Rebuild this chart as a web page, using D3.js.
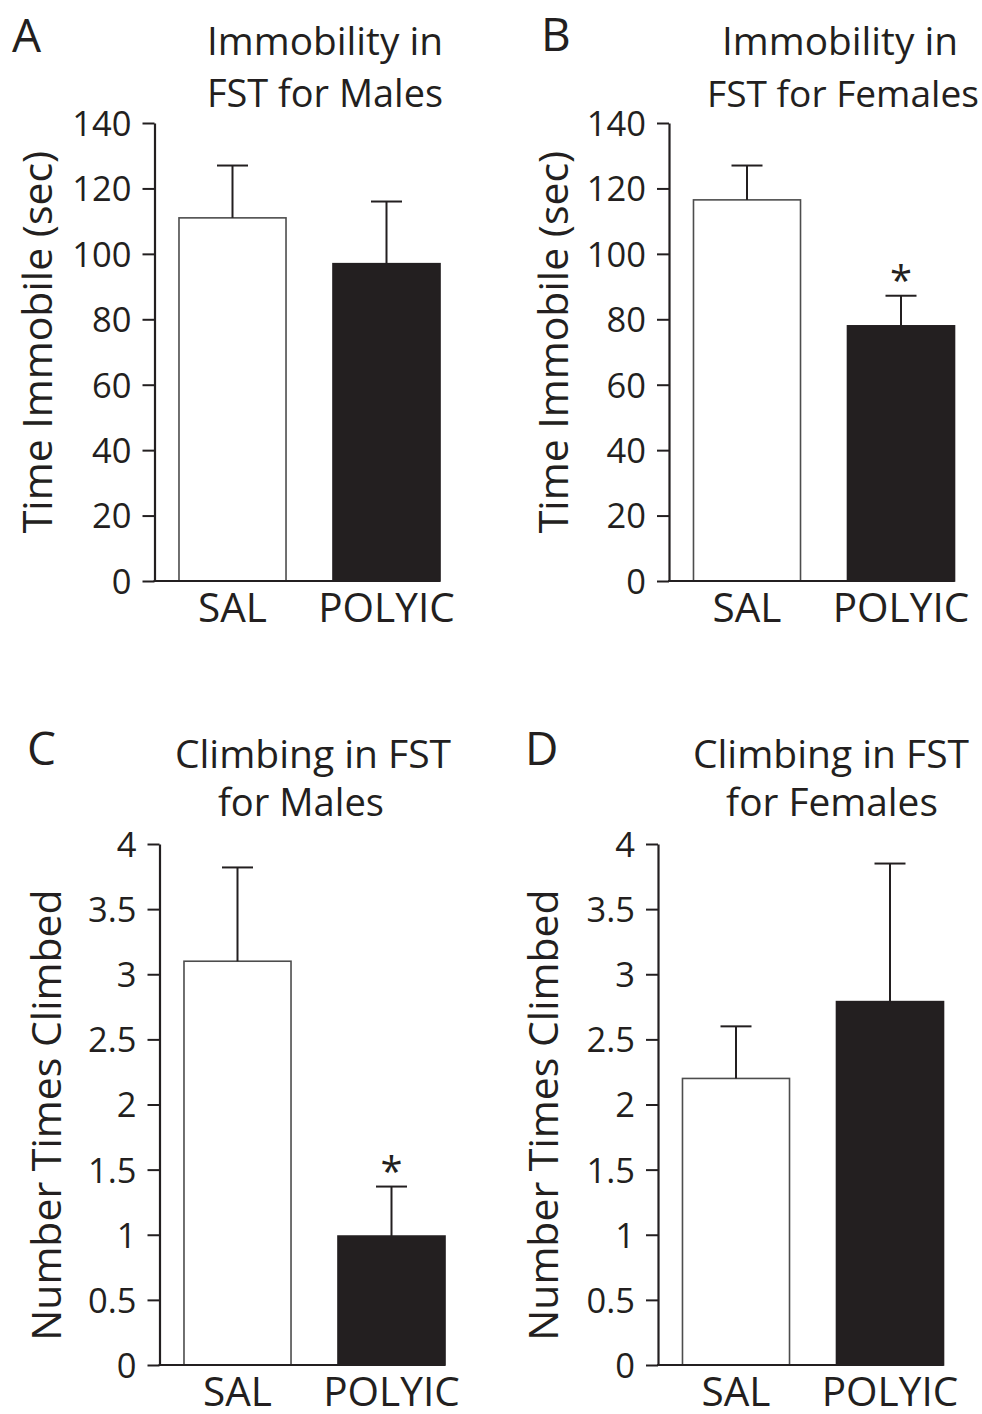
<!DOCTYPE html>
<html>
<head>
<meta charset="utf-8">
<script src="https://cdn.jsdelivr.net/npm/d3@7"></script>
<style>
  html, body { margin: 0; padding: 0; background: #fff; }
  svg { display: block; }
  text { font-family: "Open Sans", sans-serif; fill: #231f20; }
</style>
</head>
<body>
<svg id="fig" width="982" height="1414"></svg>
<script>
// Treatment groups
const groups = ["SAL", "POLYIC"];

// Forced swim test: time immobile (sec), mean and SEM
const immobilityMales = [111, 97];
const immobilityMalesSem = [16, 19];
const immobilityFemales = [116.5, 78];
const immobilityFemalesSem = [10.5, 9.2];

// Forced swim test: number of climbing events, mean and SEM
const climbingMales = [3.1, 0.99];
const climbingMalesSem = [0.72, 0.38];
const climbingFemales = [2.2, 2.79];
const climbingFemalesSem = [0.4, 1.06];

// Significance flags (p < 0.05 vs SAL)
const immobilityFemalesSig = [false, true];
const climbingMalesSig = [false, true];
const noSig = [false, false];

// Axis ticks
const immobilityTicks = [0, 20, 40, 60, 80, 100, 120, 140];
const climbingTicks = [0, 0.5, 1, 1.5, 2, 2.5, 3, 3.5, 4];

const ink = "#231f20";
const barFill = ["#ffffff", ink];
const barStroke = ["#4d4d4d", ink];

const panels = [
  { letter: "A", letterX: 12, letterY: 52,
    title: ["Immobility in", "FST for Males"], titleX: [325, 325], titleY: [55, 107], titleW: [236, 236],
    yLabel: "Time Immobile (sec)", yLabelX: 52, yLabelY: 342,
    means: immobilityMales, sem: immobilityMalesSem, sig: noSig,
    ticks: immobilityTicks, axisX: 154.5, top: 123, bottom: 581, catY: 622 },
  { letter: "B", letterX: 541, letterY: 51,
    title: ["Immobility in", "FST for Females"], titleX: [840, 843], titleY: [55, 107], titleW: [236, 272],
    yLabel: "Time Immobile (sec)", yLabelX: 568, yLabelY: 342,
    means: immobilityFemales, sem: immobilityFemalesSem, sig: immobilityFemalesSig,
    ticks: immobilityTicks, axisX: 669, top: 123, bottom: 581, catY: 622 },
  { letter: "C", letterX: 27, letterY: 765,
    title: ["Climbing in FST", "for Males"], titleX: [313, 301], titleY: [768, 816], titleW: [284, 166],
    yLabel: "Number Times Climbed", yLabelX: 61, yLabelY: 1115,
    means: climbingMales, sem: climbingMalesSem, sig: climbingMalesSig,
    ticks: climbingTicks, axisX: 159.5, top: 844, bottom: 1365, catY: 1406 },
  { letter: "D", letterX: 525, letterY: 765,
    title: ["Climbing in FST", "for Females"], titleX: [831, 832], titleY: [768, 816], titleW: [284, 212],
    yLabel: "Number Times Climbed", yLabelX: 558, yLabelY: 1115,
    means: climbingFemales, sem: climbingFemalesSem, sig: noSig,
    ticks: climbingTicks, axisX: 658, top: 844, bottom: 1365, catY: 1406 }
];

const svg = d3.select("#fig");

// Shrink a text's font size until it fits within a given width
function fitWidth(sel, maxW, size) {
  sel.style("font-size", size + "px");
  const w = sel.node().getComputedTextLength();
  if (w > maxW) sel.style("font-size", (size * maxW / w).toFixed(2) + "px");
}

panels.forEach(p => {
  const g = svg.append("g");

  const y = d3.scaleLinear()
    .domain([0, d3.max(p.ticks)])
    .range([p.bottom, p.top]);

  const x = d3.scaleBand()
    .domain(groups)
    .range([p.axisX, p.axisX + 310])
    .paddingInner(0.305)
    .paddingOuter(0.159);

  const bw = x.bandwidth();
  const xEnd = x(groups[groups.length - 1]) + bw;

  // Panel letter
  g.append("text")
    .attr("x", p.letterX).attr("y", p.letterY)
    .style("font-size", "46px")
    .text(p.letter);

  // Title, two lines
  p.title.forEach((line, i) => {
    const t = g.append("text")
      .attr("x", p.titleX[i]).attr("y", p.titleY[i])
      .attr("text-anchor", "middle")
      .text(line);
    fitWidth(t, p.titleW[i], 39);
  });

  // Bars
  g.selectAll("rect.bar")
    .data(groups)
    .join("rect")
    .attr("class", "bar")
    .attr("x", d => x(d))
    .attr("width", bw)
    .attr("y", (d, i) => y(p.means[i]))
    .attr("height", (d, i) => y(0) - y(p.means[i]))
    .attr("fill", (d, i) => barFill[i])
    .attr("stroke", (d, i) => barStroke[i])
    .attr("stroke-width", 1.6);

  // Upper error bars
  const err = g.selectAll("g.err")
    .data(groups)
    .join("g")
    .attr("class", "err");
  err.append("line")
    .attr("x1", d => x(d) + bw / 2).attr("x2", d => x(d) + bw / 2)
    .attr("y1", (d, i) => y(p.means[i]))
    .attr("y2", (d, i) => y(p.means[i] + p.sem[i]))
    .attr("stroke", ink).attr("stroke-width", 2);
  err.append("line")
    .attr("x1", d => x(d) + bw / 2 - 15.5).attr("x2", d => x(d) + bw / 2 + 15.5)
    .attr("y1", (d, i) => y(p.means[i] + p.sem[i]))
    .attr("y2", (d, i) => y(p.means[i] + p.sem[i]))
    .attr("stroke", ink).attr("stroke-width", 2);

  // Significance asterisks
  g.selectAll("text.sig")
    .data(groups.filter((d, i) => p.sig[i]))
    .join("text")
    .attr("class", "sig")
    .attr("x", d => x(d) + bw / 2)
    .attr("y", d => {
      const i = groups.indexOf(d);
      return y(p.means[i] + p.sem[i]) - 1;
    })
    .attr("text-anchor", "middle")
    .style("font-size", "40px")
    .text("*");

  // Y axis
  const yAxis = d3.axisLeft(y)
    .tickValues(p.ticks)
    .tickFormat(d => String(d))
    .tickSize(12)
    .tickSizeOuter(0)
    .tickPadding(11);
  const ya = g.append("g")
    .attr("transform", `translate(${p.axisX},0)`)
    .call(yAxis);
  ya.select(".domain").attr("stroke", ink).attr("stroke-width", 2.2);
  ya.selectAll(".tick line").attr("stroke", ink).attr("stroke-width", 2);
  ya.selectAll(".tick text")
    .attr("fill", ink)
    .attr("dy", "0.36em")
    .style("font-family", '"Open Sans", sans-serif')
    .style("font-size", "34.5px");

  // X baseline
  g.append("line")
    .attr("x1", p.axisX - 1).attr("x2", xEnd)
    .attr("y1", y(0)).attr("y2", y(0))
    .attr("stroke", ink).attr("stroke-width", 2.2);

  // Category labels
  g.selectAll("text.cat")
    .data(groups)
    .join("text")
    .attr("class", "cat")
    .attr("x", d => x(d) + bw / 2)
    .attr("y", p.catY)
    .attr("text-anchor", "middle")
    .style("font-size", "40.5px")
    .text(d => d);

  // Y axis title
  g.append("text")
    .attr("transform", `translate(${p.yLabelX},${p.yLabelY}) rotate(-90)`)
    .attr("text-anchor", "middle")
    .style("font-size", "41px")
    .text(p.yLabel);
});
</script>
</body>
</html>
